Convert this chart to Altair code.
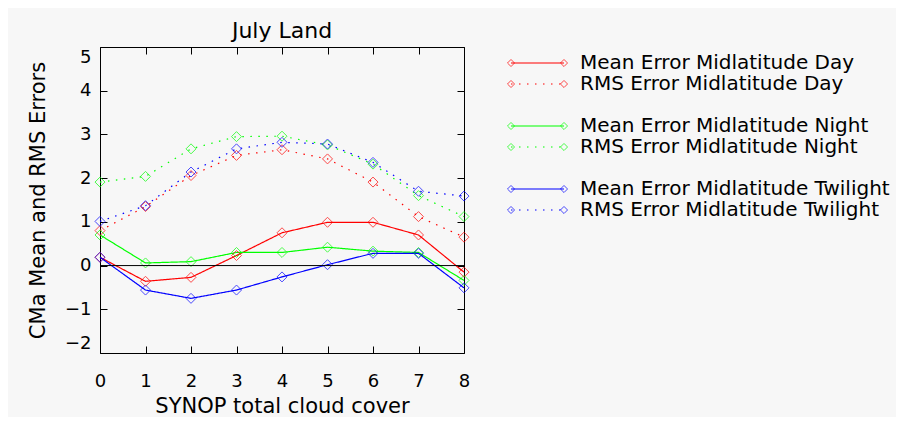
import altair as alt
import pandas as pd

# ---------------- data ----------------
cloud_cover = [0, 1, 2, 3, 4, 5, 6, 7, 8]
y_ticks = [-2, -1, 0, 1, 2, 3, 4, 5]

mean_day = [0.19, -0.36, -0.27, 0.23, 0.75, 0.99, 0.99, 0.70, -0.15]
rms_day = [0.80, 1.35, 2.06, 2.52, 2.65, 2.44, 1.91, 1.12, 0.65]
mean_night = [0.70, 0.06, 0.09, 0.30, 0.30, 0.42, 0.33, 0.30, -0.34]
rms_night = [1.91, 2.04, 2.67, 2.95, 2.96, 2.76, 2.32, 1.60, 1.12]
mean_twilight = [0.19, -0.56, -0.75, -0.56, -0.26, 0.02, 0.28, 0.28, -0.51]
rms_twilight = [1.01, 1.37, 2.14, 2.67, 2.82, 2.78, 2.36, 1.70, 1.59]

groups = ["Day", "Night", "Twilight"]
colors = ["#ff0000", "#00ff00", "#0000ff"]
kinds = ["mean", "rms"]
series_names = [
    "Mean Error Midlatitude Day",
    "RMS Error Midlatitude Day",
    "Mean Error Midlatitude Night",
    "RMS Error Midlatitude Night",
    "Mean Error Midlatitude Twilight",
    "RMS Error Midlatitude Twilight",
]
series_values = [mean_day, rms_day, mean_night, rms_night, mean_twilight, rms_twilight]

FONT = "DejaVu Sans"

rows = []
for i, (name, vals) in enumerate(zip(series_names, series_values)):
    for x, v in zip(cloud_cover, vals):
        rows.append({"x": x, "value": v, "series": name,
                     "group": groups[i // 2], "kind": kinds[i % 2]})
df = pd.DataFrame(rows)

leg_df = pd.DataFrame({
    "label": series_names,
    "group": [groups[i // 2] for i in range(6)],
    "kind": [kinds[i % 2] for i in range(6)],
    "row": [(i // 2) * 3 + (i % 2) for i in range(6)],
})

color_scale = alt.Scale(domain=groups, range=colors)
dash_scale = alt.Scale(domain=kinds, range=[[1, 0], [1.5, 6.5]])
color_enc = alt.Color("group:N", scale=color_scale, legend=None)
dash_enc = alt.StrokeDash("kind:N", scale=dash_scale, legend=None)

x_scale = alt.Scale(domain=[0, 8], nice=False, zero=False)
y_scale = alt.Scale(domain=[-2, 5], nice=False, zero=False)

x_main = alt.X("x:Q", scale=x_scale,
               axis=alt.Axis(values=cloud_cover, title="SYNOP total cloud cover",
                             tickSize=7, offset=-7, domain=False, grid=False,
                             labelFlush=False, labelPadding=19, titlePadding=5,
                             format="d"))
y_main = alt.Y("value:Q", scale=y_scale,
               axis=alt.Axis(values=y_ticks, title="CMa Mean and RMS Errors",
                             tickSize=7, offset=-7, domain=False, grid=False,
                             labelFlush=True, labelFlushOffset=-1,
                             labelPadding=9, titlePadding=16, format="d"))

base = alt.Chart(df)
lines = base.mark_line(strokeWidth=1.2).encode(
    x=x_main, y=y_main, color=color_enc, strokeDash=dash_enc, detail="series:N")
points = base.mark_point(shape="diamond", filled=False, size=100, strokeWidth=1).encode(
    x=alt.X("x:Q", axis=None), y=alt.Y("value:Q", axis=None),
    color=color_enc, detail="series:N")
zero_line = alt.Chart(pd.DataFrame({"value": [0]})).mark_rule(
    color="black", strokeWidth=1).encode(y=alt.Y("value:Q", axis=None))
top_axis = alt.Chart(pd.DataFrame({"x": cloud_cover})).mark_point(opacity=0).encode(
    x=alt.X("x:Q", axis=alt.Axis(orient="top", values=cloud_cover, tickSize=7, offset=-7,
                                 domain=False, labels=False, title=None, grid=False)))
right_axis = alt.Chart(pd.DataFrame({"value": y_ticks})).mark_point(opacity=0).encode(
    y=alt.Y("value:Q", axis=alt.Axis(orient="right", values=y_ticks, tickSize=7, offset=-7,
                                     domain=False, labels=False, title=None, grid=False)))

plot = alt.layer(lines, points, zero_line, top_axis, right_axis).resolve_axis(
    x="independent", y="independent"
).properties(
    width=364, height=306,
    title=alt.Title("July Land", fontSize=22, font=FONT, fontWeight="normal",
                    color="black", offset=1),
)

# ---------------- legend panel ----------------
lx = alt.Scale(domain=[0, 1], range=[0, 53])
ly = alt.Scale(domain=[0, 1], range=[16, 37])
leg_base = alt.Chart(leg_df)
leg_rule = leg_base.mark_rule(strokeWidth=1.2).encode(
    x=alt.XDatum(0, scale=lx, axis=None), x2=alt.X2Datum(1),
    y=alt.Y("row:Q", scale=ly, axis=None), color=color_enc, strokeDash=dash_enc)
leg_p0 = leg_base.mark_point(shape="diamond", filled=False, size=50, strokeWidth=1).encode(
    x=alt.XDatum(0, scale=lx, axis=None), y=alt.Y("row:Q", scale=ly, axis=None),
    color=color_enc)
leg_p1 = leg_base.mark_point(shape="diamond", filled=False, size=50, strokeWidth=1).encode(
    x=alt.XDatum(1, scale=lx, axis=None), y=alt.Y("row:Q", scale=ly, axis=None),
    color=color_enc)
leg_text = leg_base.mark_text(align="left", baseline="middle", dx=16, fontSize=20,
                              font=FONT, color="black").encode(
    x=alt.XDatum(1, scale=lx, axis=None), y=alt.Y("row:Q", scale=ly, axis=None),
    text="label:N")
legend = alt.layer(leg_rule, leg_p0, leg_p1, leg_text).properties(
    width=385, height=306, view=alt.ViewBackground(stroke=None))

chart = alt.hconcat(plot, legend, spacing=33).properties(
    padding={"left": 18, "top": 11, "right": 0, "bottom": 0},
    background="#f7f7f7",
).configure_view(stroke="black", strokeWidth=1).configure_axis(
    labelFont=FONT, labelFontSize=18, labelColor="black",
    titleFont=FONT, titleFontSize=21, titleColor="black", titleFontWeight="normal",
    tickColor="black", tickWidth=1,
)

chart.save("out.html", embed_options={"renderer": "svg", "actions": False})
